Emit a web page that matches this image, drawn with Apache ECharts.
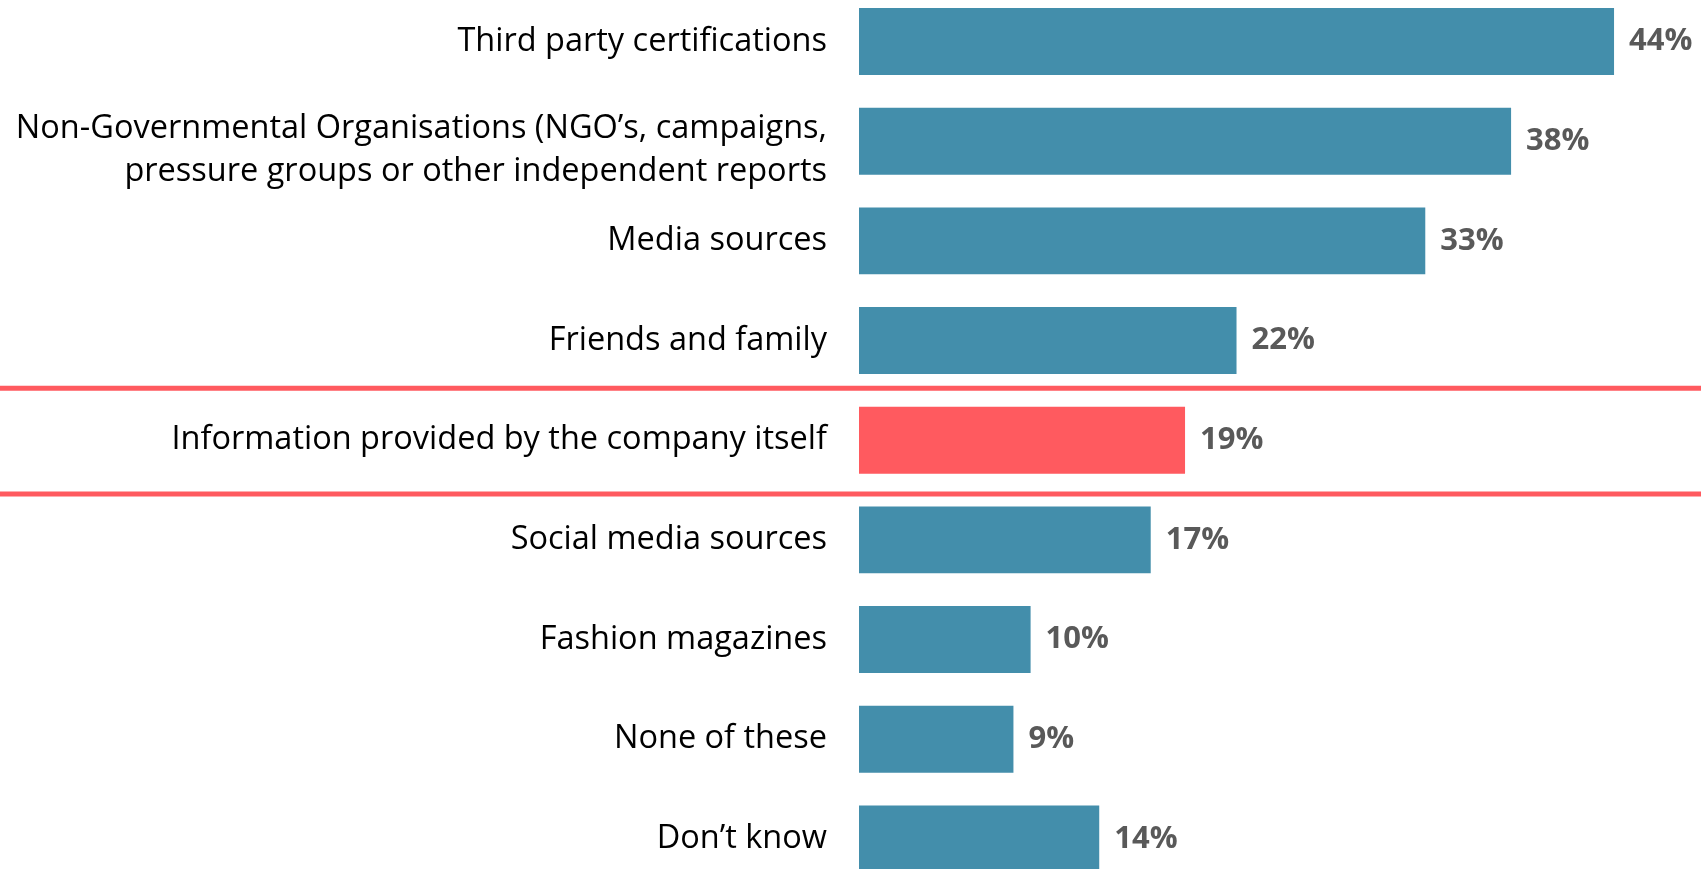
<!DOCTYPE html>
<html>
<head>
<meta charset="utf-8">
<style>
  html, body { margin: 0; padding: 0; background: #ffffff; }
  #chart { width: 1701px; height: 869px; }
</style>
<script src="https://cdn.jsdelivr.net/npm/echarts@6/dist/echarts.min.js"></script>
</head>
<body>
<div id="chart"></div>
<script>
// Sources trusted for information about a company's practices (% of respondents)
const categories = [
  'Third party certifications',
  'Non-Governmental Organisations (NGO\u2019s, campaigns,\npressure groups or other independent reports',
  'Media sources',
  'Friends and family',
  'Information provided by the company itself',
  'Social media sources',
  'Fashion magazines',
  'None of these',
  'Don\u2019t know'
];
const values = [44, 38, 33, 22, 19, 17, 10, 9, 14];
const highlightIndex = 4;

const TEAL = '#438EAB';
const RED = '#FF5A5F';

const LABEL_FONT = { fontFamily: 'Open Sans', fontSize: 32.5, color: '#000000' };

const chart = echarts.init(document.getElementById('chart'), null, { renderer: 'canvas' });

// Two-line labels sit a little below their row centre: a short spacer line on top nudges them down
function formatCategory(name) {
  if (name.indexOf('\n') < 0) return name;
  return '{sp|\u200B}\n' + name.split('\n').map(line => '{ln|' + line + '}').join('\n');
}

const option = {
  animation: false,
  backgroundColor: '#ffffff',
  grid: {
    left: 859, width: 858, top: -8.3, height: 897,
    containLabel: false,
    outerBoundsMode: 'none'
  },
  xAxis: {
    type: 'value',
    min: 0,
    max: 50,
    show: false
  },
  yAxis: {
    type: 'category',
    data: categories,
    inverse: true,
    axisLine: { show: false },
    axisTick: { show: false },
    splitLine: { show: false },
    axisLabel: Object.assign({
      margin: 32,
      lineHeight: 43,
      align: 'right',
      formatter: formatCategory,
      rich: {
        sp: Object.assign({}, LABEL_FONT, { fontSize: 4, lineHeight: 18 }),
        ln: Object.assign({}, LABEL_FONT, { lineHeight: 43 })
      }
    }, LABEL_FONT)
  },
  series: [{
    type: 'bar',
    barCategoryGap: '32.8%',
    data: values.map((v, i) => ({
      value: v,
      itemStyle: { color: i === highlightIndex ? RED : TEAL }
    })),
    label: {
      show: true,
      position: 'right',
      distance: 15,
      formatter: '{c}%',
      fontFamily: 'Open Sans',
      fontWeight: 'bold',
      fontSize: 31,
      color: '#595959'
    }
  }]
};

chart.setOption(option);

// Horizontal rules framing the highlighted row, spanning the full width
const yCenter = chart.convertToPixel({ yAxisIndex: 0 }, highlightIndex);
const yNext = chart.convertToPixel({ yAxisIndex: 0 }, highlightIndex + 1);
const band = Math.abs(yNext - yCenter);
const yTop = yCenter - band / 2 - 2;
const yBottom = yCenter + band / 2 + 4;
const W = chart.getWidth();

chart.setOption({
  graphic: [
    { type: 'line', shape: { x1: 0, y1: yTop, x2: W, y2: yTop }, style: { stroke: RED, lineWidth: 5 }, z: 10 },
    { type: 'line', shape: { x1: 0, y1: yBottom, x2: W, y2: yBottom }, style: { stroke: RED, lineWidth: 5 }, z: 10 }
  ]
});
</script>
</body>
</html>
